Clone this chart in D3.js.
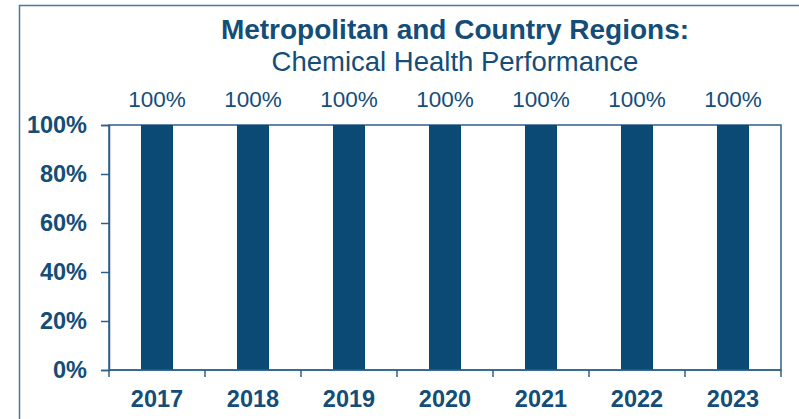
<!DOCTYPE html>
<html>
<head>
<meta charset="utf-8">
<script src="https://cdn.jsdelivr.net/npm/d3@7"></script>
<style>
  body { margin: 0; background: #fff; }
  text { font-family: "Liberation Sans", Arial, sans-serif; fill: #134d78; }
</style>
</head>
<body>
<div id="chart"></div>
<script>
var years = ["2017", "2018", "2019", "2020", "2021", "2022", "2023"];
var values = [100, 100, 100, 100, 100, 100, 100];
var yTicks = [0, 20, 40, 60, 80, 100];

var width = 799, height = 419;
var margin = { top: 125, right: 18, bottom: 49, left: 109 };
var innerW = width - margin.left - margin.right;
var innerH = height - margin.top - margin.bottom;

var svg = d3.select("#chart").append("svg")
  .attr("width", width)
  .attr("height", height);

// outer border of the chart
svg.append("rect")
  .attr("x", 19.5).attr("y", 5.5)
  .attr("width", 790).attr("height", 430)
  .style("fill", "none")
  .style("stroke", "#4a77a0")
  .style("stroke-width", 1.5);

svg.append("text")
  .attr("x", 455).attr("y", 39)
  .attr("text-anchor", "middle")
  .style("font-size", "28px")
  .style("font-weight", "bold")
  .text("Metropolitan and Country Regions:");

svg.append("text")
  .attr("x", 455).attr("y", 71)
  .attr("text-anchor", "middle")
  .style("font-size", "27.5px")
  .text("Chemical Health Performance");

var g = svg.append("g")
  .attr("transform", "translate(" + margin.left + "," + margin.top + ")");

var x = d3.scaleBand().domain(years).range([0, innerW]).paddingInner(0).paddingOuter(0);
var y = d3.scaleLinear().domain([0, 100]).range([innerH, 0]);

// plot frame
g.append("rect")
  .attr("x", 0).attr("y", 0)
  .attr("width", innerW).attr("height", innerH)
  .style("fill", "none")
  .style("stroke", "#2e5f8a")
  .style("stroke-width", 1.5);

var barW = x.bandwidth() / 3;

g.selectAll(".bar")
  .data(values)
  .enter().append("rect")
  .attr("class", "bar")
  .attr("x", function(d, i) { return x(years[i]) + x.bandwidth() / 2 - barW / 2; })
  .attr("y", function(d) { return y(d); })
  .attr("width", barW)
  .attr("height", function(d) { return innerH - y(d); })
  .style("fill", "#0b4a75");

g.selectAll(".val")
  .data(values)
  .enter().append("text")
  .attr("class", "val")
  .attr("x", function(d, i) { return x(years[i]) + x.bandwidth() / 2; })
  .attr("y", function(d) { return y(d) - 18; })
  .attr("text-anchor", "middle")
  .style("font-size", "22.5px")
  .text(function(d) { return d + "%"; });

// y axis
var yAxis = g.append("g")
  .call(d3.axisLeft(y).tickValues(yTicks).tickSize(8).tickFormat(function(d) { return d + "%"; }));
yAxis.select(".domain").style("stroke", "#2e5f8a").style("stroke-width", 1.5);
yAxis.selectAll(".tick line").style("stroke", "#2e5f8a").style("stroke-width", 1.5);
yAxis.selectAll(".tick text")
  .attr("x", -22)
  .style("font-size", "23.5px")
  .style("font-weight", "bold")
  .style("font-family", "'Liberation Sans', Arial, sans-serif")
  .style("fill", "#134d78");

// x axis with ticks at category boundaries
var xAxis = g.append("g")
  .attr("transform", "translate(0," + innerH + ")");
xAxis.append("line")
  .attr("x1", 0).attr("x2", innerW)
  .style("stroke", "#2e5f8a").style("stroke-width", 1.5);
var bounds = years.map(function(d) { return x(d); }).concat([innerW]);
xAxis.selectAll(".xtick")
  .data(bounds)
  .enter().append("line")
  .attr("class", "xtick")
  .attr("x1", function(d) { return d; }).attr("x2", function(d) { return d; })
  .attr("y1", 0).attr("y2", 7)
  .style("stroke", "#2e5f8a").style("stroke-width", 1.5);
xAxis.selectAll(".xlab")
  .data(years)
  .enter().append("text")
  .attr("class", "xlab")
  .attr("x", function(d) { return x(d) + x.bandwidth() / 2; })
  .attr("y", 37)
  .attr("text-anchor", "middle")
  .style("font-size", "23.5px")
  .style("font-weight", "bold")
  .text(function(d) { return d; });
</script>
</body>
</html>
